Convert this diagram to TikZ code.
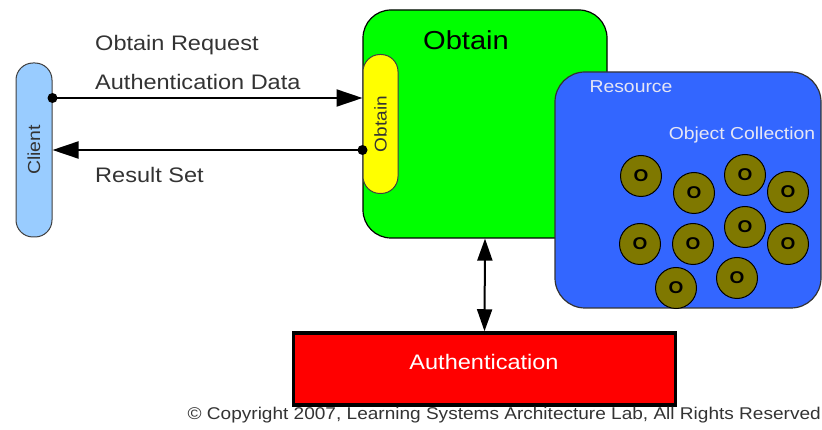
\documentclass[tikz,border=0pt]{standalone}
\usepackage{fontspec}
\setmainfont{Liberation Sans}[FakeStretch=1.12]
\usetikzlibrary{arrows.meta}
\definecolor{clientc}{HTML}{99CCFF}
\definecolor{greenc}{HTML}{00FF00}
\definecolor{yellowc}{HTML}{FFFF00}
\definecolor{bluec}{HTML}{3366FF}
\definecolor{olivec}{HTML}{7F7800}
\definecolor{redc}{HTML}{FF0000}
\definecolor{txtc}{HTML}{333333}
\definecolor{restxt}{HTML}{E6E6F5}
\begin{document}
\begin{tikzpicture}[x=1pt,y=-1pt,
  pill/.style={draw=black!75, line width=1pt, rounded corners=17pt, inner sep=0pt},
  lbl/.style={font=\fontsize{21}{24}\selectfont, text=txtc, anchor=west, inner sep=0pt},
  obj/.style={circle, draw=black, line width=1pt, fill=olivec, minimum size=41pt, inner sep=0pt, font=\fontsize{17}{17}\selectfont\bfseries},
  conn/.style={line width=2pt, -{Triangle[length=26pt,width=17pt]}},
  dconn/.style={line width=2pt, {Triangle[length=22pt,width=15pt]}-{Triangle[length=22pt,width=15pt]}}
]
\useasboundingbox (0,0) rectangle (822,430);

% Client
\node[pill, fill=clientc, minimum width=36pt, minimum height=174pt] (client) at (34,150) {};
\node[rotate=90, font=\fontsize{17.4}{18}\selectfont, text=txtc] (clientlbl) at (client.center) {Client};

% Obtain component
\node[draw=black, line width=1.2pt, fill=greenc, rounded corners=28pt, minimum width=244pt, minimum height=228pt, inner sep=0pt] (obtain) at (485,124) {};
\node[font=\fontsize{26}{28}\selectfont, inner sep=0pt] (obtaintitle) at (466,40) {Obtain};
\node[pill, fill=yellowc, minimum width=35pt, minimum height=139pt] (port) at (380.5,124) {};
\node[rotate=90, font=\fontsize{17}{18}\selectfont, text=txtc] (portlbl) at (port.center) {Obtain};

% Resource
\node[draw=black!80, line width=1.2pt, fill=bluec, rounded corners=30pt, minimum width=266pt, minimum height=236pt, inner sep=0pt] (resource) at (688,190) {};
\node[font=\fontsize{17.3}{18}\selectfont, text=restxt, inner sep=0pt] (reslbl) at (631,87) {Resource};
\node[font=\fontsize{17.3}{18}\selectfont, text=restxt, inner sep=0pt] (collbl) at (742,135) {Object Collection};

\node[obj] (o1) at (641,176) {O};
\node[obj] (o2) at (694,193) {O};
\node[obj] (o3) at (745,175) {O};
\node[obj] (o4) at (788,192) {O};
\node[obj] (o5) at (745,227) {O};
\node[obj] (o6) at (640,244) {O};
\node[obj] (o7) at (693,244) {O};
\node[obj] (o8) at (788,244) {O};
\node[obj] (o9) at (676,288) {O};
\node[obj] (o10) at (737,278) {O};

% Authentication
\node[draw=black, line width=3.5pt, fill=redc, minimum width=382pt, minimum height=72pt, inner sep=0pt] (auth) at (484.5,369) {};
\node[text=white, font=\fontsize{21}{22}\selectfont, inner sep=0pt] (authlbl) at (484,362) {Authentication};

% Connectors
\coordinate (c1) at ([yshift=52pt]client.east);
\coordinate (p1) at ([yshift=26pt]port.west);
\coordinate (p2) at ([yshift=-26pt]port.west);
\draw[conn] (c1) -- (p1);
\fill (c1) circle (5pt);
\draw[conn] (p2) -- (client.east |- p2);
\fill (p2) circle (5pt);
\draw[dconn] (obtain.south) -- (auth.north);

% Labels
\node[lbl] (l1) at (95,45) {Obtain Request};
\node[lbl] (l2) at (95,82) {Authentication Data};
\node[lbl] (l3) at (95,175) {Result Set};

\node[font=\fontsize{17}{18}\selectfont, text=txtc, anchor=east, inner sep=0pt] (copy) at (821,415) {© Copyright 2007, Learning Systems Architecture Lab, All Rights Reserved};
\end{tikzpicture}
\end{document}
